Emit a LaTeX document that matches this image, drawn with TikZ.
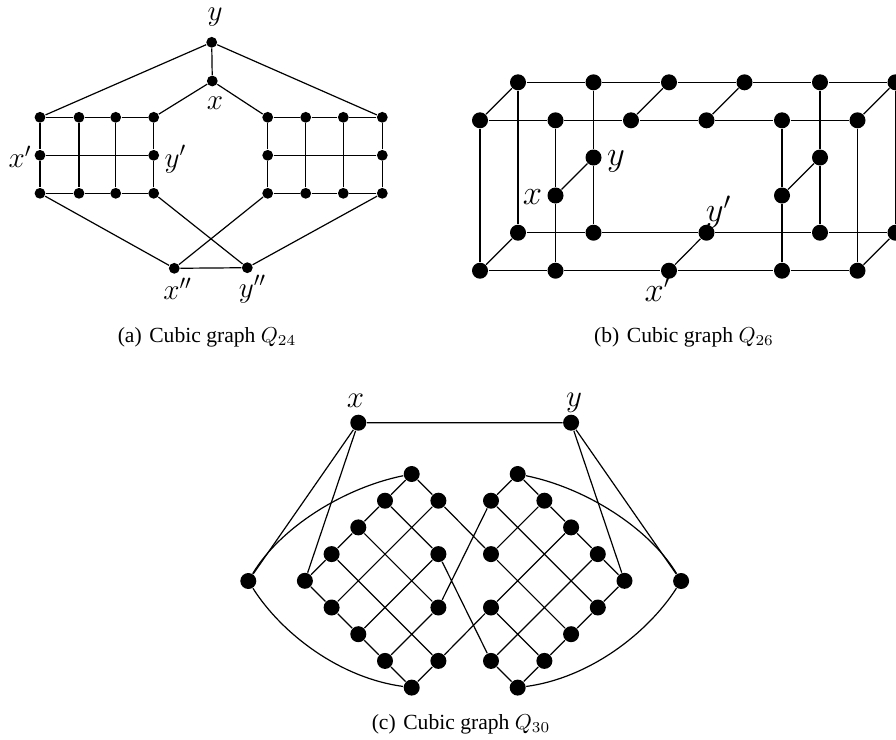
\RequirePackage{fix-cm}
\documentclass[tikz,border=0pt]{standalone}
\usepackage{fontspec}
\newfontfamily\capfont{Liberation Serif}
\begin{document}
\begin{tikzpicture}[x=0.5pt,y=-0.5pt,line width=0.6pt,
  dA/.style={circle,fill=black,inner sep=0pt,minimum size=5.4pt},
  dB/.style={circle,fill=black,inner sep=0pt,minimum size=8pt},
  dC/.style={circle,fill=black,inner sep=0pt,minimum size=8pt},
  lA/.style={inner sep=0pt,font=\fontsize{14.6}{17}\selectfont},
  lB/.style={inner sep=0pt,font=\fontsize{17.3}{20}\selectfont},
  lC/.style={inner sep=0pt,font=\fontsize{15.5}{18}\selectfont},
  captext/.style={anchor=base,inner sep=0pt,font=\capfont\fontsize{10.8}{13}\selectfont}]
\useasboundingbox (0,0) rectangle (896,740);

% ---------------- (a) Q24 ----------------
\node[dA] (ay) at (211.7,42.3) {};
\node[dA] (ax) at (212.3,81) {};
\node[dA] (a11) at (40,117.3) {};
\node[dA] (a12) at (79,117.3) {};
\node[dA] (a13) at (115.7,117.3) {};
\node[dA] (a14) at (153.7,117.3) {};
\node[dA] (a21) at (40,155.3) {};
\node[dA] (a24) at (153.7,155.3) {};
\node[dA] (a31) at (40,193.3) {};
\node[dA] (a32) at (79,193.3) {};
\node[dA] (a33) at (115.7,193.3) {};
\node[dA] (a34) at (153.7,193.3) {};
\node[dA] (b11) at (267.7,117.3) {};
\node[dA] (b12) at (305.7,117.3) {};
\node[dA] (b13) at (343.3,117.3) {};
\node[dA] (b14) at (382.3,117.3) {};
\node[dA] (b21) at (267.7,155.3) {};
\node[dA] (b24) at (382.3,155.3) {};
\node[dA] (b31) at (267.7,193.3) {};
\node[dA] (b32) at (305.7,193.3) {};
\node[dA] (b33) at (343.3,193.3) {};
\node[dA] (b34) at (382.3,193.3) {};
\node[dA] (axx) at (174.3,268.3) {};
\node[dA] (ayy) at (247.3,267.7) {};

\draw (ay) -- (ax) (ay) -- (a11) (ay) -- (b14) (ax) -- (a14) (ax) -- (b11)
      (a31) -- (axx) (a34) -- (ayy) (b31) -- (axx) (b34) -- (ayy) (axx) -- (ayy);
\draw (a11) -- (a12) -- (a13) -- (a14) (a21) -- (a24) (a31) -- (a32) -- (a33) -- (a34)
      (a11) -- (a21) -- (a31) (a14) -- (a24) -- (a34) (a12) -- (a32) (a13) -- (a33);
\draw (b11) -- (b12) -- (b13) -- (b14) (b21) -- (b24) (b31) -- (b32) -- (b33) -- (b34)
      (b11) -- (b21) -- (b31) (b14) -- (b24) -- (b34) (b12) -- (b32) (b13) -- (b33);

\node[lA] (lay) at (215,17.5) {$y$};
\node[lA] (lax) at (215,103.5) {$x$};
\node[lA] (laxp) at (20,157) {$x'$};
\node[lA] (layp) at (175.5,159) {$y'$};
\node[lA] (laxx) at (177.5,289) {$x''$};
\node[lA] (layy) at (252.5,289) {$y''$};
\node[captext] (capa) at (207,342) {(a)\hspace{0.35em}Cubic graph $Q_{24}$};

% ---------------- (b) Q26 ----------------
\node[dB] (ft0) at (480,120.3) {};
\node[dB] (ft1) at (555.5,120.3) {};
\node[dB] (ft2) at (631,120.3) {};
\node[dB] (ft3) at (706.5,120.3) {};
\node[dB] (ft4) at (782,120.3) {};
\node[dB] (ft5) at (857.5,120.3) {};
\node[dB] (bt0) at (518,82.3) {};
\node[dB] (bt1) at (593.5,82.3) {};
\node[dB] (bt2) at (669,82.3) {};
\node[dB] (bt3) at (744.5,82.3) {};
\node[dB] (bt4) at (820,82.3) {};
\node[dB] (bt5) at (895.5,82.3) {};
\node[dB] (fb0) at (480,270.7) {};
\node[dB] (fb1) at (555.5,270.7) {};
\node[dB] (bxp) at (669,270.7) {};
\node[dB] (fb4) at (782,270.7) {};
\node[dB] (fb5) at (857.5,270.7) {};
\node[dB] (bb0) at (518,232.7) {};
\node[dB] (bb1) at (593.5,232.7) {};
\node[dB] (byp) at (706.5,232.7) {};
\node[dB] (bb4) at (820,232.7) {};
\node[dB] (bb5) at (895.5,232.7) {};
\node[dB] (bx) at (555.5,195.5) {};
\node[dB] (by) at (593.5,157.5) {};
\node[dB] (bm1) at (782,195.5) {};
\node[dB] (bm2) at (820,157.5) {};

\draw (ft0) -- (ft1) -- (ft2) -- (ft3) -- (ft4) -- (ft5)
      (bt0) -- (bt1) -- (bt2) -- (bt3) -- (bt4) -- (bt5)
      (fb0) -- (fb1) -- (bxp) -- (fb4) -- (fb5)
      (bb0) -- (bb1) -- (byp) -- (bb4) -- (bb5);
\draw (ft0) -- (fb0) (ft5) -- (fb5) (bt0) -- (bb0) (bt5) -- (bb5)
      (ft1) -- (bx) -- (fb1) (bt1) -- (by) -- (bb1)
      (ft4) -- (bm1) -- (fb4) (bt4) -- (bm2) -- (bb4);
\draw (ft0) -- (bt0) (fb0) -- (bb0) (ft5) -- (bt5) (fb5) -- (bb5)
      (ft2) -- (bt2) (ft3) -- (bt3) (bx) -- (by) (bxp) -- (byp) (bm1) -- (bm2);

\node[lB] (lby) at (616,161) {$y$};
\node[lB] (lbx) at (532.5,197) {$x$};
\node[lB] (lbyp) at (718.5,212) {$y'$};
\node[lB] (lbxp) at (658,288) {$x'$};
\node[captext] (capb) at (684,342) {(b)\hspace{0.35em}Cubic graph $Q_{26}$};

% ---------------- (c) Q30 ----------------
\node[dC] (cx) at (358.3,422.7) {};
\node[dC] (cy) at (571.1,422.7) {};
\node[dC] (cl1) at (248.3,581) {};
\node[dC] (cr1) at (681.1,581) {};
% left diamond
\node[dC] (L00) at (411.7,474) {};
\node[dC] (L10) at (438.4,500.7) {};
\node[dC] (L01) at (385,500.7) {};
\node[dC] (L02) at (358.3,527.4) {};
\node[dC] (L03) at (331.6,554.1) {};
\node[dC] (L21) at (438.4,554.1) {};
\node[dC] (L04) at (304.9,580.8) {};
\node[dC] (L14) at (331.6,607.5) {};
\node[dC] (L32) at (438.4,607.5) {};
\node[dC] (L24) at (358.3,634.2) {};
\node[dC] (L34) at (385,660.9) {};
\node[dC] (L43) at (438.4,660.9) {};
\node[dC] (L44) at (411.7,687.6) {};
% right diamond
\node[dC] (R00) at (517.7,474) {};
\node[dC] (R10) at (491,500.7) {};
\node[dC] (R01) at (544.4,500.7) {};
\node[dC] (R02) at (571.1,527.4) {};
\node[dC] (R03) at (597.8,554.1) {};
\node[dC] (R21) at (491,554.1) {};
\node[dC] (R04) at (624.5,580.8) {};
\node[dC] (R14) at (597.8,607.5) {};
\node[dC] (R32) at (491,607.5) {};
\node[dC] (R24) at (571.1,634.2) {};
\node[dC] (R34) at (544.4,660.9) {};
\node[dC] (R43) at (491,660.9) {};
\node[dC] (R44) at (517.7,687.6) {};

\draw (cx) -- (cy) (cx) -- (cl1) (cx) -- (L04) (cy) -- (cr1) (cy) -- (R04);
\draw (cl1) .. controls (280,528) and (343,488) .. (L00);
\draw (cl1) .. controls (282,634) and (340,678) .. (L44);
\draw (cr1) .. controls (649,528) and (586,488) .. (R00);
\draw (cr1) .. controls (647,634) and (589,678) .. (R44);
\draw (L00) -- (L01) (L00) -- (L10) (L01) -- (L02) (L02) -- (L03) (L03) -- (L04)
      (L04) -- (L14) (L14) -- (L24) (L24) -- (L34) (L34) -- (L44) (L44) -- (L43)
      (L01) -- (L21) (L10) -- (L14) (L02) -- (L32) (L03) -- (L43) (L21) -- (L24) (L32) -- (L34);
\draw (R00) -- (R01) (R00) -- (R10) (R01) -- (R02) (R02) -- (R03) (R03) -- (R04)
      (R04) -- (R14) (R14) -- (R24) (R24) -- (R34) (R34) -- (R44) (R44) -- (R43)
      (R01) -- (R21) (R10) -- (R14) (R02) -- (R32) (R03) -- (R43) (R21) -- (R24) (R32) -- (R34);
\draw (L10) -- (R21) (R10) -- (L32) (L21) -- (R43) (L43) -- (R32);

\node[lC] (lcx) at (355.5,401) {$x$};
\node[lC] (lcy) at (574,403) {$y$};
\node[captext] (capc) at (461,729) {(c)\hspace{0.35em}Cubic graph $Q_{30}$};
\end{tikzpicture}
\end{document}
